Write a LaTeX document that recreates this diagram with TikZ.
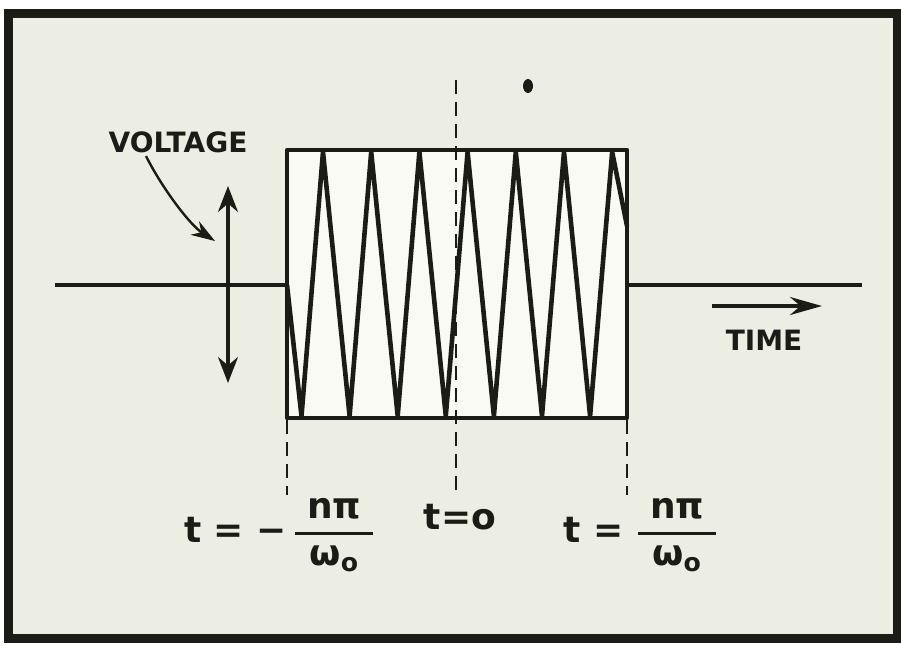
\documentclass[tikz,border=0pt]{standalone}
\usepackage{amsmath}
\usepackage{fontspec}
\setmainfont{DejaVu Sans}
\usetikzlibrary{arrows.meta}
\definecolor{paper}{HTML}{EDEEE3}
\definecolor{sheet}{HTML}{FAFAF4}
\definecolor{ink}{HTML}{1C1C16}
\newcommand{\pulsefrac}{\genfrac{}{}{1.4pt}{0}{\text{\kern6pt nπ\kern6pt}}{\text{ω}_{\text{o}}}}
\begin{document}
\begin{tikzpicture}[x=0.5pt,y=-0.5pt,
    every node/.style={text=ink, inner sep=0pt},
    trace/.style={draw=ink, line width=2.3pt, line join=round},
    guide/.style={draw=ink, line width=1.4pt, dash pattern=on 7pt off 4pt},
    pointer/.style={draw=ink, line width=1.6pt},
    caption/.style={font=\fontsize{14}{17}\selectfont\bfseries},
    eqn/.style={font=\fontsize{18}{21}\selectfont\bfseries}]
  \useasboundingbox (0,0) rectangle (901,645);
  \fill[white] (0,0) rectangle (901,645);
  \draw[ink, fill=paper, line width=4.5pt] (8,13) rectangle (897,638);

  % the pulse window
  \coordinate (wl) at (287,285);
  \coordinate (wr) at (627,285);
  \draw[trace, fill=sheet] (287,150) rectangle (627,418);
  \draw[trace] (wl)
    \foreach \k in {0,...,6} { -- ({301.5+48.1*\k},416) -- ({323+48.2*\k},152) }
    -- (627,226);
  \draw[trace] (55,285) -- (wl);
  \draw[trace] (wr) -- (862,285);

  % time marks
  \coordinate (gl) at (287,495);
  \coordinate (gc) at (456,495);
  \coordinate (gr) at (627,495);
  \draw[guide] (287,420) -- (gl);
  \draw[guide] (456,80) -- (gc);
  \draw[guide] (627,420) -- (gr);
  \fill[ink] (528,86) ellipse (5 and 7);

  % voltage and time
  \coordinate (vtop) at (228,186);
  \coordinate (vbot) at (228,383);
  \draw[pointer, {Stealth[length=13pt,width=10pt]}-{Stealth[length=13pt,width=10pt]}] (vtop) -- (vbot);
  \node[caption] (volt) at (178,142) {VOLTAGE};
  \coordinate (vtail) at (146,156);
  \coordinate (vtip) at (215,241);
  \draw[ink, line width=1.2pt, -{Stealth[length=12pt,width=8pt]}]
    (vtail) .. controls (162,188) and (190,225) .. (vtip);
  \coordinate (ta) at (712,306);
  \coordinate (tb) at (822,306);
  \draw[pointer, -{Stealth[length=16pt,width=9pt]}] (ta) -- (tb);
  \node[caption] (time) at (764,340) {TIME};

  % labels under the marks
  \node[eqn] (tneg) at (280,535) {t = −\,$\pulsefrac$};
  \node[eqn] (tzero) at (460,517) {t=o};
  \node[eqn] (tpos) at (641,535) {t = $\pulsefrac$};
\end{tikzpicture}
\end{document}
